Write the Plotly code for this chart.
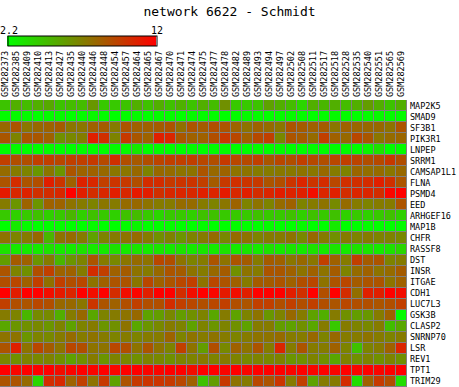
import plotly.graph_objects as go

samples = ["GSM282373","GSM282385","GSM282409","GSM282410","GSM282413","GSM282427","GSM282435",
           "GSM282440","GSM282446","GSM282448","GSM282454","GSM282457","GSM282464","GSM282465",
           "GSM282467","GSM282470","GSM282471","GSM282474","GSM282475","GSM282477","GSM282478",
           "GSM282482","GSM282489","GSM282493","GSM282494","GSM282497","GSM282502","GSM282508",
           "GSM282511","GSM282517","GSM282518","GSM282528","GSM282535","GSM282540","GSM282551",
           "GSM282565","GSM282569"]

genes = ["MAP2K5","SMAD9","SF3B1","PIK3R1","LNPEP","SRRM1","CAMSAP1L1","FLNA","PSMD4","EED",
         "ARHGEF16","MAP1B","CHFR","RASSF8","DST","INSR","ITGAE","CDH1","LUC7L3","GSK3B",
         "CLASP2","SNRNP70","LSR","REV1","TPT1","TRIM29"]

MAP2K5 = [4.5,5.3,4.8,5.3,5.5,4.5,4.8,4.8,6.2,4.3,4.3,4.5, 5.3,4.6,5.3,4.6,5.2,4.5,5.3,4.8,6.5,4.3,4.3,4.5, 5.8,5.3,4.8,3.8,5.3,5.0,5.3,4.8,5.3,6.0,5.3,4.5,5.3]
SMAD9 = [2.3,2.4,2.3,2.2,2.3,2.4,2.2,2.3,2.5,2.3,2.2,2.3, 2.4,2.2,2.3,2.3,2.2,2.4,2.3,2.3,2.2,2.3,2.4,2.3, 2.2,2.3,2.4,2.3,2.2,2.3,2.4,2.3,2.2,2.3,2.4,2.3,2.3]
SF3B1 = [8.0,8.8,7.5,8.0,8.2,8.5,7.5,7.5,8.3,8.5,7.3,8.8, 8.3,8.3,8.5,8.8,7.7,8.8,8.5,9.0,8.8,8.2,7.6,8.2, 7.9,7.5,8.8,8.5,8.3,8.5,7.5,8.3,8.1,8.0,8.0,7.6,8.8]
PIK3R1 = [8.7,7.0,8.7,8.7,8.3,6.5,6.8,7.2,10.8,10.2,7.0,9.8, 8.7,8.2,10.8,10.6,8.7,8.3,8.3,9.0,9.8,9.3,8.3,9.2, 9.6,6.8,8.8,8.5,7.9,9.6,8.3,8.0,9.3,8.7,7.5,7.9,8.1]
LNPEP = [2.2,2.3,2.2,2.2,2.3,2.2,2.2,2.3,2.2,2.2,2.3,2.4, 3.0,2.2,2.3,2.2,2.2,2.3,2.2,2.2,2.3,2.2,2.2,2.3, 2.2,2.3,2.2,2.2,2.3,2.2,2.2,2.3,2.2,2.6,3.3,2.2,2.3]
SRRM1 = [9.6,9.0,9.0,9.6,9.6,9.3,9.6,9.6,9.8,9.2,10.2,9.0, 8.6,9.0,9.4,9.6,9.6,9.6,9.3,9.0,9.8,9.3,9.2,9.6, 8.7,9.3,9.0,9.6,9.2,9.0,9.3,9.6,9.4,9.0,9.2,9.8,9.0]
CAMSAP1L1 = [7.9,7.3,7.0,6.2,7.5,6.3,8.8,8.2,8.3,8.0,7.5,7.5, 8.0,7.0,8.0,7.9,7.6,7.6,8.8,8.0,8.2,7.6,7.6,7.3, 7.3,7.4,7.4,7.6,7.5,8.0,7.3,7.0,8.1,7.8,7.9,7.5,8.0]
FLNA = [8.8,10.3,8.8,9.0,10.8,10.0,8.3,10.7,10.5,9.6,10.0,9.8, 9.0,10.3,10.3,9.8,10.0,10.0,9.6,8.5,9.8,10.2,10.0,9.8, 8.8,9.0,10.0,10.6,10.0,10.3,9.3,10.2,10.2,10.3,10.8,10.2,8.8]
PSMD4 = [11.0,10.5,10.7,10.2,10.3,10.5,12.0,10.9,10.3,10.5,10.9,10.5, 11.0,10.9,10.2,10.5,10.6,10.5,10.8,10.6,11.0,10.5,10.9,10.3, 10.6,10.9,10.7,10.8,11.5,10.6,10.8,10.3,10.6,10.6,10.3,11.8,12.0]
EED = [7.3,6.3,8.2,6.3,8.3,8.2,7.6,7.3,7.0,7.5,7.3,7.9, 8.0,7.6,7.3,7.3,7.9,7.9,7.3,7.0,7.5,8.2,7.0,7.6, 7.0,7.9,8.3,7.0,7.3,7.6,6.7,7.9,7.3,7.0,7.3,7.3,8.8]
ARHGEF16 = [4.3,4.0,4.3,4.6,4.0,4.3,5.0,4.0,4.6,4.3,4.0,4.6, 4.8,4.3,3.8,4.3,4.3,4.0,4.6,4.6,4.3,4.3,4.3,4.6, 4.3,4.3,4.6,4.0,4.6,4.3,4.6,4.0,4.3,4.0,4.3,4.6,4.0]
MAP1B = [2.2,3.0,2.4,2.2,2.2,2.3,2.2,2.2,2.4,2.2,2.2,2.3, 2.6,2.2,2.2,2.3,2.2,2.2,2.3,2.2,2.2,2.3,2.2,2.2, 2.3,2.2,2.2,2.4,2.2,2.2,3.0,2.2,2.2,2.3,2.2,2.2,2.3]
CHFR = [7.6,7.0,7.3,8.0,5.0,7.6,7.9,7.3,5.8,7.0,7.3,7.6, 7.9,7.3,6.5,7.0,6.3,7.0,7.3,7.9,6.8,7.9,7.6,7.0, 7.3,7.3,7.6,6.8,8.0,7.3,6.5,7.3,7.0,7.3,7.0,7.0,6.8]
RASSF8 = [3.3,3.0,3.0,3.0,3.3,3.0,3.0,3.3,3.0,3.0,3.3,3.0, 3.2,3.0,3.2,3.0,3.3,3.0,3.2,3.0,3.3,3.0,3.2,3.0, 3.3,3.0,3.2,3.0,3.3,3.0,3.2,3.0,3.3,3.2,3.0,3.3,3.8]
DST = [6.0,8.5,8.3,6.3,7.3,5.0,6.3,7.0,8.8,7.3,6.8,7.5, 7.9,7.6,9.3,9.0,7.6,7.0,7.3,8.8,7.6,8.8,8.5,7.3, 8.5,8.3,7.5,8.0,7.5,9.6,8.3,7.3,9.6,8.5,8.8,7.0,7.3]
INSR = [8.8,7.0,6.5,9.0,9.6,8.2,8.3,7.3,10.3,9.6,8.3,8.5, 7.6,7.3,8.0,8.8,8.5,7.6,7.3,8.0,8.5,6.5,7.6,7.3, 8.8,8.7,8.3,7.6,8.3,7.6,8.5,7.0,7.9,8.3,7.6,7.9,8.5]
ITGAE = [9.0,9.3,8.3,9.6,7.7,9.6,9.0,9.3,7.6,8.3,8.8,8.8, 7.5,9.3,8.3,8.8,9.3,9.6,7.6,9.3,8.8,8.3,7.3,8.5, 8.5,8.8,8.3,9.0,9.3,7.6,8.8,9.3,8.5,8.8,8.8,7.6,8.3]
CDH1 = [12.0,10.9,12.0,12.0,11.5,11.0,10.6,12.0,11.5,12.0,10.3,11.5, 11.8,10.8,12.0,12.0,10.3,11.5,12.0,11.8,11.0,11.5,10.8,12.0, 12.0,12.0,10.9,10.2,12.0,9.0,12.0,10.3,7.8,10.8,10.8,12.0,11.5]
LUC7L3 = [9.6,9.0,8.8,9.3,9.0,8.0,8.0,7.5,10.0,8.8,8.3,9.0, 9.6,9.0,9.0,10.3,9.6,9.3,9.0,9.3,9.6,9.0,8.8,9.6, 9.6,9.0,9.6,9.0,9.6,9.0,8.8,9.3,9.0,9.0,8.8,9.0,9.6]
GSK3B = [7.3,7.0,5.0,6.7,6.7,5.3,7.3,8.0,5.6,7.0,7.3,7.6, 8.0,5.8,6.0,6.8,6.0,6.5,7.0,5.6,7.3,5.8,7.0,7.6, 6.2,7.0,8.0,7.3,5.8,5.3,7.3,6.5,6.0,6.2,7.3,8.3,2.3]
CLASP2 = [5.6,6.3,6.5,6.8,6.3,7.0,5.8,7.0,7.3,6.3,6.5,7.6, 5.6,6.3,6.8,7.3,7.0,5.8,7.0,6.3,7.0,6.5,5.8,7.3, 7.3,6.0,5.8,6.5,5.6,7.3,4.3,7.3,7.0,6.8,7.3,4.7,5.6]
SNRNP70 = [7.6,7.6,6.3,7.0,6.8,7.3,7.9,7.3,7.6,7.3,7.0,7.3, 7.0,7.3,7.3,8.2,7.0,7.6,7.3,7.6,7.3,7.0,7.3,7.6, 7.6,7.9,7.3,7.3,8.0,7.0,8.0,7.3,7.3,7.6,7.3,7.0,7.3]
LSR = [8.8,10.8,7.6,9.3,8.5,7.6,9.3,9.0,7.6,7.6,9.3,9.0, 7.6,8.8,7.6,7.0,9.6,7.6,6.0,9.0,6.8,8.3,7.6,8.8, 7.3,10.6,7.3,8.8,7.3,7.3,8.3,7.0,4.6,7.0,7.3,8.3,10.6]
REV1 = [6.8,6.5,7.0,6.8,7.0,6.5,5.8,6.5,7.3,6.3,7.0,6.8, 6.5,7.0,6.8,6.5,7.0,7.0,7.3,7.0,7.3,7.0,6.8,7.0, 6.8,7.0,6.3,6.5,7.0,6.5,5.6,7.0,6.5,7.0,6.5,7.0,6.5]
TPT1 = [12.0,11.8,12.0,12.0,12.0,11.5,11.8,12.0,11.8,12.0,11.8,12.0, 12.0,11.8,11.8,12.0,12.0,11.5,12.0,12.0,11.8,12.0,11.8,12.0, 12.0,12.0,11.8,12.0,11.8,12.0,11.8,12.0,11.8,12.0,11.8,12.0,12.0]
TRIM29 = [8.8,8.8,7.9,3.8,10.3,10.5,8.2,9.6,7.6,9.8,5.8,8.8, 9.8,10.0,10.0,9.8,9.3,8.3,4.6,6.0,9.8,7.6,7.3,9.3, 8.8,10.0,7.3,9.6,5.8,7.3,7.3,10.3,3.5,8.3,9.8,9.0,3.5]

z = [MAP2K5, SMAD9, SF3B1, PIK3R1, LNPEP, SRRM1, CAMSAP1L1, FLNA, PSMD4, EED,
     ARHGEF16, MAP1B, CHFR, RASSF8, DST, INSR, ITGAE, CDH1, LUC7L3, GSK3B,
     CLASP2, SNRNP70, LSR, REV1, TPT1, TRIM29]

zmin, zmax = 2.2, 12
scale_labels = ["2.2", "12"]
FONT = "DejaVu Sans Mono"
W, H = 459, 387
L, R, T, B = 0, 52, 100, 0
PW, PH = W - L - R, H - T - B

fig = go.Figure(go.Heatmap(
    z=z, x=samples, y=genes,
    zmin=zmin, zmax=zmax,
    colorscale=[[0, "rgb(0,255,0)"], [0.5, "rgb(128,128,0)"], [1, "rgb(255,0,0)"]],
    xgap=1, ygap=1,
    hoverinfo="skip",
    colorbar=dict(
        orientation="h", xref="container", yref="container",
        x=8 / W, xanchor="left", y=(H - 47) / H, yanchor="bottom",
        len=149, lenmode="pixels", thickness=10,
        xpad=0, ypad=0,
        outlinecolor="black", outlinewidth=1,
        showticklabels=False, ticks="",
    ),
))

# colour-scale end labels above the bar
for px, txt in [(8.5, scale_labels[0]), (157, scale_labels[1])]:
    fig.add_annotation(text=txt, x=(px - L) / PW, y=1 + (T - 30) / PH, xref="paper", yref="paper",
                       showarrow=False, xanchor="center", yanchor="middle",
                       font=dict(family=FONT, size=10, color="black"))

fig.update_layout(
    width=W, height=H,
    margin=dict(l=L, r=R, t=T, b=B, pad=0),
    paper_bgcolor="white", plot_bgcolor="#808080",
    title=dict(text="network 6622 - Schmidt", x=0.5, xanchor="center", y=1 - 11 / H, yanchor="middle",
               font=dict(family=FONT, size=13, color="black")),
    xaxis=dict(side="top", tickangle=-90, showgrid=False, zeroline=False, ticks="", automargin=False,
               tickfont=dict(family=FONT, size=8.5, color="black"), ticklabelstandoff=2),
    yaxis=dict(side="right", autorange="reversed", showgrid=False, zeroline=False, ticks="", automargin=False,
               tickfont=dict(family=FONT, size=8.5, color="black"), ticklabelstandoff=2),
)

fig.write_html("out.html", config={"displayModeBar": False},
               post_script="document.body.style.margin='0px';document.body.style.overflow='hidden';")
